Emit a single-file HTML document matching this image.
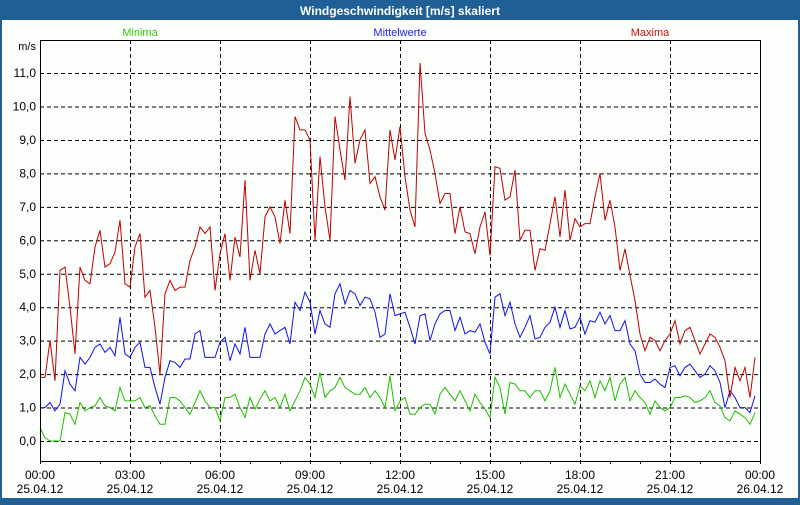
<!DOCTYPE html>
<html><head><meta charset="utf-8"><style>
body{margin:0;width:800px;height:500px;overflow:hidden;background:#1f5f96;font-family:"Liberation Sans",sans-serif}
#win{position:absolute;left:0;top:0;width:800px;height:500px}
</style></head><body>
<div id="win">
<svg id="chart" width="800" height="500" font-family="Liberation Sans, sans-serif">
<rect x="0" y="0" width="800" height="500" fill="#1f5f96"/>
<rect x="2" y="20" width="796" height="478" fill="#fcfefc"/>
<text x="400" y="15" text-anchor="middle" fill="#fff" font-size="12" font-weight="bold">Windgeschwindigkeit [m/s] skaliert</text>
<text x="140" y="36" text-anchor="middle" fill="#33cc00" font-size="11">Minima</text>
<text x="400" y="36" text-anchor="middle" fill="#2020ee" font-size="11">Mittelwerte</text>
<text x="650" y="36" text-anchor="middle" fill="#cc1010" font-size="11">Maxima</text>
<text x="36" y="50" text-anchor="end" fill="#000" font-size="11">m/s</text>
<g id="grid"></g><g id="series"></g><g id="axes"></g>
</svg>
</div>
<script>
const yTicks=[0,1,2,3,4,5,6,7,8,9,10,11];
const yTickLabels=["0,0","1,0","2,0","3,0","4,0","5,0","6,0","7,0","8,0","9,0","10,0","11,0"];
const xTickHours=[0,3,6,9,12,15,18,21,24];
const xTickTimes=["00:00","03:00","06:00","09:00","12:00","15:00","18:00","21:00","00:00"];
const xTickDates=["25.04.12","25.04.12","25.04.12","25.04.12","25.04.12","25.04.12","25.04.12","25.04.12","26.04.12"];
const maxima=[1.9,1.9,3.0,1.8,5.1,5.2,4.0,2.6,5.2,4.8,4.7,5.8,6.3,5.2,5.3,5.65,6.6,4.7,4.6,5.8,6.2,4.3,4.5,3.4,2.0,4.4,4.8,4.5,4.6,4.6,5.4,5.8,6.4,6.2,6.4,4.5,5.6,6.2,4.8,6.1,5.5,7.8,4.8,5.7,5.0,6.7,7.0,6.7,5.9,7.2,6.2,9.7,9.3,9.3,9.0,6.0,8.5,7.0,6.0,9.7,8.7,7.8,10.3,8.3,9.0,9.3,7.7,7.9,7.3,6.9,9.3,8.4,9.4,7.9,6.9,6.4,11.3,9.2,8.7,8.0,7.1,7.4,7.4,6.2,7.0,6.25,6.2,5.6,6.4,6.85,5.55,8.2,8.15,7.2,7.3,8.1,6.0,6.3,6.3,5.1,5.75,5.7,6.5,7.3,6.1,7.5,6.0,6.65,6.4,6.5,6.5,7.3,8.0,6.6,7.2,6.4,5.1,5.75,4.95,4.2,3.2,2.7,3.1,3.0,2.7,3.0,3.2,3.6,2.9,3.3,3.4,3.0,2.6,2.9,3.2,3.1,2.8,2.4,1.3,2.2,1.8,2.2,1.3,2.5];
const mittelwerte=[1.0,1.0,1.15,0.9,1.1,2.1,1.7,1.5,2.5,2.3,2.5,2.8,2.9,2.65,2.8,2.55,3.7,2.6,2.5,2.8,2.95,2.2,2.2,1.6,1.1,1.9,2.4,2.35,2.2,2.45,2.45,3.2,3.3,2.5,2.5,2.5,2.95,3.1,2.4,2.9,2.6,3.4,2.5,2.5,2.5,3.2,3.5,3.2,3.3,3.4,2.9,4.15,3.9,4.45,4.15,3.2,3.9,3.5,3.4,4.4,4.7,4.1,4.5,4.4,4.05,4.3,4.25,3.85,3.1,3.2,4.4,3.75,3.8,3.85,3.4,2.9,3.75,3.8,3.0,3.5,3.8,3.9,3.9,3.3,3.7,3.2,3.3,3.25,3.5,2.95,2.6,4.3,4.4,3.75,4.15,3.5,3.1,3.4,3.75,3.05,3.1,3.4,3.55,4.0,3.4,3.9,3.35,3.4,3.7,3.2,3.6,3.55,3.85,3.5,3.75,3.3,3.3,3.6,2.9,2.7,2.0,1.75,1.75,1.85,1.7,1.6,2.2,2.25,1.95,2.2,2.3,2.1,1.9,2.0,2.25,2.1,1.75,1.0,1.5,1.3,1.0,1.0,0.85,1.35];
const minima=[0.4,0.1,0.0,0.0,0.0,0.85,0.8,0.5,1.15,0.9,1.0,1.05,1.3,1.05,1.0,0.9,1.6,1.2,1.2,1.2,1.3,1.0,1.05,0.75,0.5,0.5,1.3,1.3,1.2,1.0,0.8,1.15,1.5,1.2,1.0,1.0,0.6,1.3,1.3,1.4,1.0,0.7,1.3,0.95,1.25,1.5,1.2,1.3,1.0,1.4,0.9,1.2,1.5,1.9,1.7,1.3,2.05,1.3,1.5,1.6,1.9,1.6,1.5,1.4,1.4,1.6,1.3,1.5,1.3,1.0,1.95,0.9,1.2,1.3,0.8,0.8,1.0,1.1,1.1,0.8,1.4,1.6,1.4,1.2,1.5,1.2,0.9,1.4,1.15,0.95,0.7,1.9,1.6,0.8,1.75,1.7,1.5,1.5,1.3,1.5,1.5,1.2,1.5,2.2,1.3,1.7,1.4,1.1,1.65,1.5,1.8,1.3,1.8,1.5,1.9,1.2,1.7,1.9,1.2,1.5,1.3,1.15,0.8,1.2,1.0,0.9,1.0,1.3,1.3,1.35,1.3,1.15,1.2,1.3,1.5,1.15,1.05,0.7,0.6,0.9,0.8,0.7,0.5,0.85];
const stepMinutes=10;
const NS="http://www.w3.org/2000/svg";
const X0=40,X1=760,Y0=461,Y1=40;
function xScale(h){return X0+h*(X1-X0)/24;}
function yScale(v){return 441-v*33.45;}
function mk(tag,attrs,parent){const e=document.createElementNS(NS,tag);for(const k in attrs)e.setAttribute(k,attrs[k]);parent.appendChild(e);return e;}
const grid=document.getElementById('grid'),axes=document.getElementById('axes'),series=document.getElementById('series');
yTicks.forEach((v,i)=>{
  const l=mk('line',{x1:X0,x2:X1,y1:yScale(v)+0.5,y2:yScale(v)+0.5,stroke:'#000','stroke-dasharray':'4,3','stroke-width':1},grid);
  
  
  const t=mk('text',{x:36,y:yScale(v)+4,'text-anchor':'end','font-size':12,fill:'#000'},axes);
  t.textContent=yTickLabels[i];
  
  
});
xTickHours.forEach((h,i)=>{
  if(h>0&&h<24){
    const l=mk('line',{x1:xScale(h)+0.5,x2:xScale(h)+0.5,y1:Y1,y2:Y0,stroke:'#000','stroke-dasharray':'4,3','stroke-width':1},grid);
    
    
  }
  const t=mk('text',{x:xScale(h),y:479,'text-anchor':'middle','font-size':12,fill:'#000'},axes);
  t.textContent=xTickTimes[i];
  
  
  const d=mk('text',{x:xScale(h),y:493,'text-anchor':'middle','font-size':12,fill:'#000'},axes);
  d.textContent=xTickDates[i];
  
  
});
for(let h=0;h<=24;h++){
  const tk=mk('line',{x1:xScale(h)+0.5,x2:xScale(h)+0.5,y1:Y0,y2:Y0+3,stroke:'#000'},axes);
  
  
}
const frame=mk('rect',{x:X0+0.5,y:Y1+0.5,width:X1-X0,height:Y0-Y1,fill:'none',stroke:'#000'},axes);


function drawSeries(arr,color,name){
  const pts=arr.map((v,i)=>xScale(i*stepMinutes/60).toFixed(1)+','+yScale(v).toFixed(1)).join(' ');
  const p=mk('polyline',{points:pts,fill:'none',stroke:color,'stroke-width':1},series);
  
  
}
drawSeries(minima,'#22bb00','minima-line');
drawSeries(mittelwerte,'#1010ee','mittelwerte-line');
drawSeries(maxima,'#c00000','maxima-line');
</script>
</body></html>
